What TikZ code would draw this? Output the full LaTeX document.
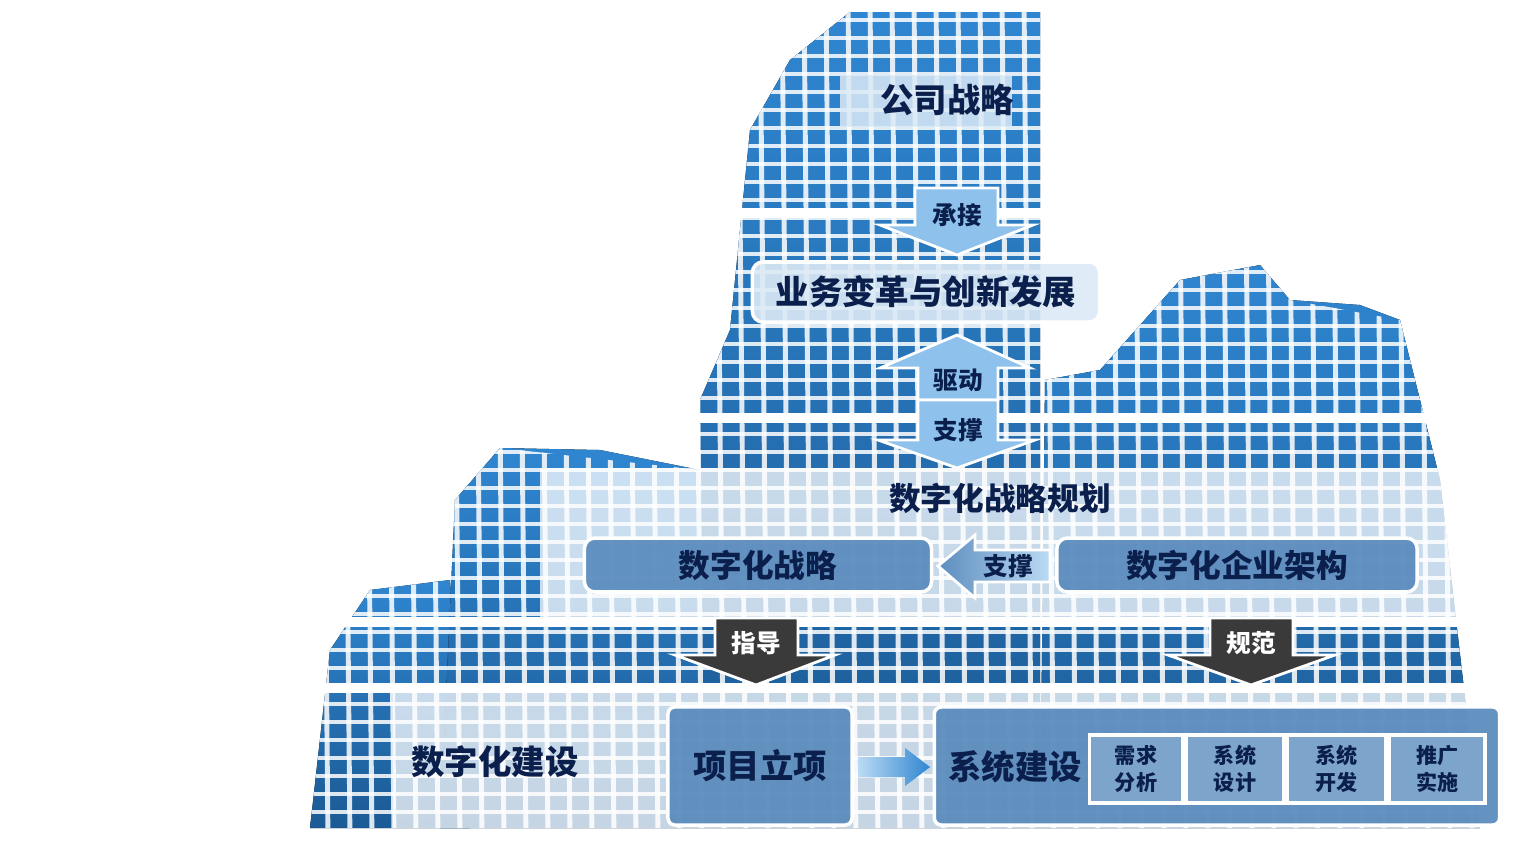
\documentclass[tikz,border=0pt]{standalone}
\usepackage{fontspec}
\newfontfamily\cjk{Noto Sans CJK SC}
\usetikzlibrary{positioning,shapes.arrows}

\definecolor{navy}{HTML}{0B1F4D}
\definecolor{towerA}{HTML}{2F86D0}
\definecolor{towerB}{HTML}{1B5A95}
\definecolor{boxblue}{HTML}{5C8DBE}
\definecolor{paleblue}{HTML}{DCEAF6}
\definecolor{arrowblue}{HTML}{8EC2EC}
\definecolor{darkarrow}{HTML}{3A3A3A}

\tikzset{
    tower/.style = {top color=towerA, bottom color=towerB, draw=none},
    band/.style = {fill=white, fill opacity=0.75, draw=none},
    lightbox/.style = {fill=paleblue, fill opacity=0.9, draw=white, line width=1pt,
        rounded corners=3pt, text opacity=1},
    bluebox/.style = {fill=boxblue, fill opacity=0.95, draw=white, line width=1pt,
        rounded corners=3pt, text opacity=1},
    subbox/.style = {fill=boxblue!80, draw=white, line width=1pt, text=navy,
        font=\cjk\bfseries\fontsize{6}{7.5}\selectfont, align=center, inner sep=1pt},
    label/.style = {text=navy, font=\cjk\bfseries\fontsize{9}{11}\selectfont},
    biglabel/.style = {text=navy, font=\cjk\bfseries\fontsize{9.5}{11}\selectfont},
    arrowlabel/.style = {text=navy, font=\cjk\bfseries\fontsize{7}{9}\selectfont},
    darklabel/.style = {text=white, font=\cjk\bfseries\fontsize{7}{9}\selectfont},
    lightarrow/.style = {fill=arrowblue, draw=white, line width=0.8pt},
    darkarrowshape/.style = {fill=darkarrow, draw=white, line width=0.8pt}
}

\begin{document}
\begin{tikzpicture}[x=0.01cm, y=-0.01cm]
    \useasboundingbox (0,0) rectangle (1538,841);

    % buildings in the background
    \fill[tower] (310,828) -- (330,650) -- (370,590) -- (450,580) -- (470,828) -- cycle;
    \fill[tower] (440,828) -- (455,500) -- (500,448) -- (600,450) -- (700,470) -- (700,828) -- cycle;
    \fill[tower] (1040,828) -- (1045,380) -- (1100,370) -- (1180,280) -- (1260,265)
        -- (1290,300) -- (1360,305) -- (1400,320) -- (1440,480) -- (1480,828) -- cycle;
    \fill[tower] (700,828) -- (700,400) -- (730,330) -- (750,130) -- (790,60)
        -- (850,12) -- (1040,12) -- (1040,828) -- cycle;
    % window grid
    \begin{scope}
        \clip (310,828) -- (330,650) -- (370,590) -- (450,580) -- (455,500) -- (500,448)
            -- (700,470) -- (700,400) -- (730,330) -- (750,130) -- (790,60) -- (850,12)
            -- (1040,12) -- (1045,380) -- (1100,370) -- (1180,280) -- (1260,265)
            -- (1290,300) -- (1400,320) -- (1440,480) -- (1480,828) -- cycle;
        \foreach \x in {320,342,...,1480}
            \draw[white, line width=1.4pt, opacity=0.85] (\x,0) -- (\x+8,841);
        \foreach \y in {20,38,...,830}
            \draw[white, line width=1pt, opacity=0.85] (300,\y) -- (1500,\y);
    \end{scope}
    \foreach \y in {213,418,622,688}
        \draw[white, line width=3pt] (300,\y) -- (1500,\y);

    % translucent bands
    \fill[band] (540,468) rectangle (1460,620);
    \fill[band] (393,688) rectangle (1500,828);

    % top
    \fill[paleblue, opacity=0.85] (840,75) rectangle (1012,127);
    \node[biglabel] (gongsi) at (947,100) {公司战略};

    % 承接 arrow
    \path[lightarrow] (915,188) -- (998,188) -- (998,225) -- (1033,225) -- (957,255)
        -- (880,225) -- (915,225) -- cycle;
    \node[arrowlabel] (chengjie) at (957,215) {承接};

    \node[lightbox, minimum width=3.47cm, minimum height=0.6cm, biglabel] (yewu) at (926,292)
        {业务变革与创新发展};

    % 驱动 / 支撑 double arrow
    \path[lightarrow] (957,335) -- (1030,368) -- (998,368) -- (998,400) -- (918,400)
        -- (918,368) -- (880,368) -- cycle;
    \path[lightarrow] (918,400) -- (998,400) -- (998,440) -- (1035,440) -- (957,468)
        -- (878,440) -- (918,440) -- cycle;
    \node[arrowlabel] (qudong) at (958,380) {驱动};
    \node[arrowlabel] (zhicheng) at (958,430) {支撑};

    \node[label] (guihua) at (1000,498) {数字化战略规划};
    \node[bluebox, minimum width=3.47cm, minimum height=0.5cm, label] (zhanlue) at (758,565)
        {数字化战略};
    \node[bluebox, minimum width=3.6cm, minimum height=0.5cm, label] (jiagou) at (1237,565)
        {数字化企业架构};

    % 支撑 left arrow
    \path[lightarrow, left color=boxblue, right color=arrowblue!60] (1050,550) -- (1050,582)
        -- (975,582) -- (975,598) -- (938,566) -- (975,535) -- (975,550) -- cycle;
    \node[arrowlabel] (zhicheng2) at (1008,566) {支撑};

    % dark arrows
    \path[darkarrowshape] (715,618) -- (798,618) -- (798,655) -- (835,655) -- (756,685)
        -- (675,655) -- (715,655) -- cycle;
    \node[darklabel] (zhidao) at (756,643) {指导};
    \path[darkarrowshape] (1210,618) -- (1293,618) -- (1293,655) -- (1335,655) -- (1251,685)
        -- (1168,655) -- (1210,655) -- cycle;
    \node[darklabel] (guifan) at (1251,643) {规范};

    % bottom row
    \node[biglabel] (jianshe) at (495,762) {数字化建设};
    \node[bluebox, minimum width=1.84cm, minimum height=1.18cm, biglabel, rounded corners=2pt]
        (lixiang) at (760,766) {项目立项};
    \node[bluebox, minimum width=5.65cm, minimum height=1.18cm, rounded corners=2pt]
        (xitong) at (1217,766) {};
    \node[biglabel] at (1015,767) {系统建设};
    \node[subbox, minimum width=0.93cm, minimum height=0.68cm] (xuqiu) at (1136,769) {需求\\分析};
    \node[subbox, minimum width=0.98cm, minimum height=0.68cm, right=0pt of xuqiu] (sheji) {系统\\设计};
    \node[subbox, minimum width=0.98cm, minimum height=0.68cm, right=0pt of sheji] (kaifa) {系统\\开发};
    \node[subbox, minimum width=0.96cm, minimum height=0.68cm, right=0pt of kaifa] (shishi) {推广\\实施};

    \path[lightarrow, left color=arrowblue!60, right color=towerA, draw=none]
        (858,757) -- (905,757) -- (905,748) -- (930,767) -- (905,786) -- (905,777)
        -- (858,777) -- cycle;
\end{tikzpicture}
\end{document}
